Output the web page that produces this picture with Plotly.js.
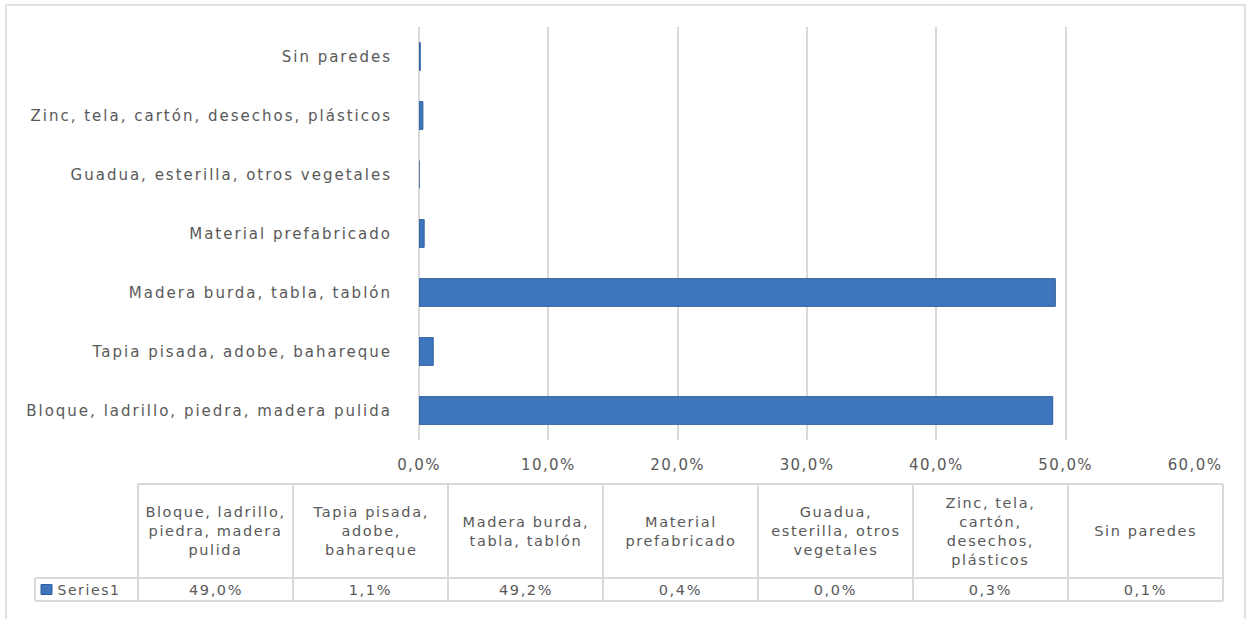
<!DOCTYPE html>
<html>
<head>
<meta charset="utf-8">
<script src="https://cdn.plot.ly/plotly-3.0.1.min.js"></script>
<style>
  html, body { margin: 0; padding: 0; background: #ffffff; }
  #chart { width: 1251px; height: 619px; }
  .js-plotly-plot .ytick text { letter-spacing: 2px; }
  .js-plotly-plot .xtick text { letter-spacing: 1.4px; }
  .js-plotly-plot .annotation-text { letter-spacing: 1.6px; }
</style>
</head>
<body>
<div id="chart"></div>
<script>
// ---- data ----
const categories = [
  "Bloque, ladrillo, piedra, madera pulida",
  "Tapia pisada, adobe, bahareque",
  "Madera burda, tabla, tablón",
  "Material prefabricado",
  "Guadua, esterilla, otros vegetales",
  "Zinc, tela, cartón, desechos, plásticos",
  "Sin paredes"
];
const values = [49.0, 1.1, 49.2, 0.4, 0.0, 0.3, 0.1];
const tableHeaders = [
  "Bloque, ladrillo,<br>piedra, madera<br>pulida",
  "Tapia pisada,<br>adobe,<br>bahareque",
  "Madera burda,<br>tabla, tablón",
  "Material<br>prefabricado",
  "Guadua,<br>esterilla, otros<br>vegetales",
  "Zinc, tela,<br>cartón,<br>desechos,<br>plásticos",
  "Sin paredes"
];
const seriesName = "Series1";
const xTickValues = [0, 10, 20, 30, 40, 50, 60];
const xTickLabels = ["0,0%", "10,0%", "20,0%", "30,0%", "40,0%", "50,0%", "60,0%"];

// ---- geometry / style ----
const W = 1251, H = 619;
const px = x => x / W;
const py = y => 1 - y / H;
const textColor = "#595959";
const gridColor = "#D9D9D9";
const barColor = "#3F75BC";
const fontFam = "DejaVu Sans, Open Sans, sans-serif";

const tableLeft = 35, firstColRight = 138, colW = 155;
const tableTop = 484, headerBottom = 578, tableBottom = 601;

const fmt = v => v.toFixed(1).replace(".", ",") + "%";

const shapes = [];
const annotations = [];

// outer frame
shapes.push({type: "rect", xref: "paper", yref: "paper",
  x0: px(6), x1: px(1245), y0: py(650), y1: py(5),
  line: {color: gridColor, width: 1.5}, fillcolor: "rgba(0,0,0,0)", layer: "below"});

// table
const nCols = tableHeaders.length;
const tableRight = firstColRight + colW * nCols;
const tl = {color: gridColor, width: 2};
shapes.push({type: "line", xref: "paper", yref: "paper", x0: px(firstColRight), x1: px(tableRight), y0: py(tableTop), y1: py(tableTop), line: tl});
shapes.push({type: "line", xref: "paper", yref: "paper", x0: px(tableLeft), x1: px(tableRight), y0: py(headerBottom), y1: py(headerBottom), line: tl});
shapes.push({type: "line", xref: "paper", yref: "paper", x0: px(tableLeft), x1: px(tableRight), y0: py(tableBottom), y1: py(tableBottom), line: tl});
shapes.push({type: "line", xref: "paper", yref: "paper", x0: px(tableLeft), x1: px(tableLeft), y0: py(headerBottom), y1: py(tableBottom), line: tl});
for (let i = 0; i <= nCols; i++) {
  const x = firstColRight + colW * i;
  shapes.push({type: "line", xref: "paper", yref: "paper", x0: px(x), x1: px(x), y0: py(tableTop), y1: py(tableBottom), line: tl});
}
for (let i = 0; i < nCols; i++) {
  const cx = firstColRight + colW * (i + 0.5);
  annotations.push({xref: "paper", yref: "paper", x: px(cx), y: py((tableTop + headerBottom) / 2),
    xanchor: "center", yanchor: "middle", align: "center", showarrow: false,
    text: tableHeaders[i], font: {family: fontFam, size: 14.5, color: textColor}});
  annotations.push({xref: "paper", yref: "paper", x: px(cx), y: py((headerBottom + tableBottom) / 2),
    xanchor: "center", yanchor: "middle", align: "center", showarrow: false,
    text: fmt(values[i]), font: {family: fontFam, size: 14.5, color: textColor}});
}
const midRow = (headerBottom + tableBottom) / 2;
shapes.push({type: "rect", xref: "paper", yref: "paper",
  x0: px(41), x1: px(52), y0: py(midRow + 5), y1: py(midRow - 5),
  fillcolor: barColor, line: {color: "#2E5F9E", width: 1}});
annotations.push({xref: "paper", yref: "paper", x: px(61), y: py(midRow),
  xanchor: "left", yanchor: "middle", showarrow: false,
  text: seriesName, font: {family: fontFam, size: 14, color: textColor}});

const trace = {
  type: "bar",
  orientation: "h",
  name: seriesName,
  y: categories,
  x: values,
  width: 0.47,
  marker: {color: barColor, line: {color: "#2E5F9E", width: 1}},
  hoverinfo: "x+y",
  showlegend: false
};

const layout = {
  width: W, height: H,
  margin: {l: 0, r: 0, t: 0, b: 0},
  paper_bgcolor: "#ffffff",
  plot_bgcolor: "#ffffff",
  showlegend: false,
  xaxis: {
    domain: [px(419), px(1195)],
    range: [0, 60],
    tickvals: xTickValues,
    ticktext: xTickLabels,
    showgrid: true, gridcolor: gridColor, gridwidth: 2,
    zeroline: true, zerolinecolor: gridColor, zerolinewidth: 2,
    showline: false, ticks: "",
    ticklabelstandoff: 14,
    tickfont: {family: fontFam, size: 15, color: textColor},
    fixedrange: true
  },
  yaxis: {
    domain: [py(440), py(27)],
    type: "category",
    categoryorder: "array",
    categoryarray: categories,
    showgrid: false, zeroline: false, showline: false, ticks: "",
    ticklabelstandoff: 26,
    tickfont: {family: fontFam, size: 15, color: textColor},
    fixedrange: true
  },
  shapes: shapes,
  annotations: annotations
};

Plotly.newPlot("chart", [trace], layout, {displayModeBar: false, staticPlot: true});
</script>
</body>
</html>
